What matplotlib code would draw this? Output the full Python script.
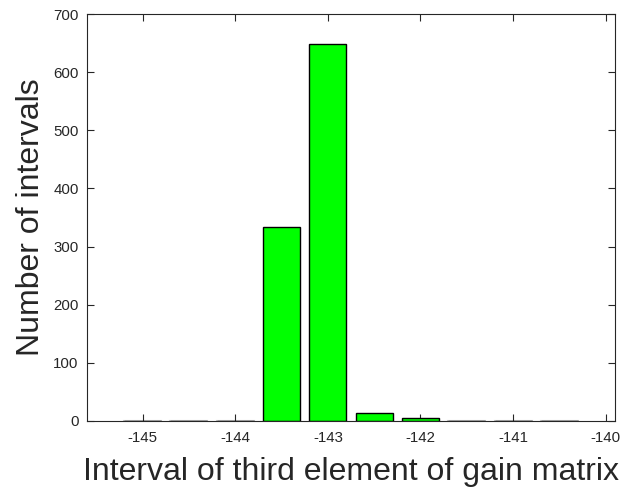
import matplotlib
matplotlib.use("Agg")
import matplotlib.pyplot as plt

# bin centres and counts
centers = [-145.0, -144.5, -144.0, -143.5, -143.0, -142.5, -142.0, -141.5, -141.0, -140.5]
counts = [0, 0, 0, 333, 649, 14, 6, 0, 0, 0]
xticks = [-145, -144, -143, -142, -141, -140]
yticks = [0, 100, 200, 300, 400, 500, 600, 700]

plt.rcParams["font.family"] = ["Liberation Sans", "DejaVu Sans"]
plt.rcParams["axes.unicode_minus"] = False

fig = plt.figure(figsize=(6.35, 4.93), dpi=100)
ax = fig.add_axes([87 / 635, 1 - 421 / 493, (615 - 87) / 635, (421 - 14) / 493])

# zero-height bars show as faint grey lines in the original
for c, n in zip(centers, counts):
    if n == 0:
        ax.plot([c - 0.2, c + 0.2], [0, 0], color="#c8c8c8", lw=1.5, zorder=1)
ax.bar(centers, counts, width=0.4, color="#00ff00", edgecolor="black", linewidth=1.0, zorder=2)

ax.set_xlim(-145.6, -139.9)
ax.set_ylim(0, 700)
ax.set_xticks(xticks)
ax.set_yticks(yticks)
ax.tick_params(direction="in", top=True, right=True, labelsize=10.8, colors="#262626", length=5)
ax.tick_params(axis="x", pad=7)
ax.tick_params(axis="y", pad=6)
for s in ax.spines.values():
    s.set_color("#262626")
    s.set_linewidth(0.8)

ax.set_xlabel("Interval of third element of gain matrix", fontsize=23, color="#262626", labelpad=9)
ax.set_ylabel("Number of intervals", fontsize=23, color="#262626", labelpad=5)

fig.savefig("out.png", dpi=100)
